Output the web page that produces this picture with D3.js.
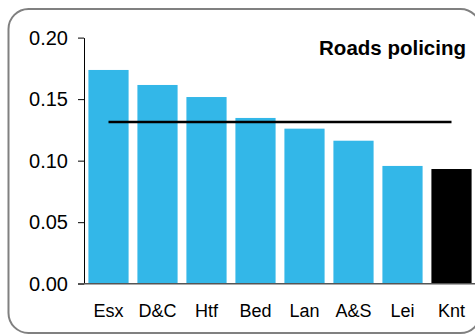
<!DOCTYPE html>
<html>
<head>
<meta charset="utf-8">
<script src="https://cdn.jsdelivr.net/npm/d3@7"></script>
<style>
  body { margin: 0; background: #fff; }
  svg { display: block; font-family: Arial, "Liberation Sans", sans-serif; }
</style>
</head>
<body>
<svg id="chart" width="475" height="335"></svg>
<script>
var forces = ["Esx", "D&C", "Htf", "Bed", "Lan", "A&S", "Lei", "Knt"];
var values = [0.1737, 0.1615, 0.1517, 0.1347, 0.126, 0.1162, 0.0957, 0.0932];
var average = 0.1314;
var yTicks = [0, 0.05, 0.10, 0.15, 0.20];
var highlight = "Knt";
var title = "Roads policing";

make_chart = function () {
    var svg = d3.select("#chart");
    var width = 475, height = 335;
    var margin = { top: 37.6, right: -1, bottom: 51.3, left: 84 };

    // rounded frame
    svg.append("rect")
        .attr("x", 8.5).attr("y", 9)
        .attr("width", 472).attr("height", 324)
        .attr("rx", 20).attr("ry", 20)
        .attr("fill", "none")
        .attr("stroke", "#808080")
        .attr("stroke-width", 2);

    var x = d3.scaleBand()
        .domain(forces)
        .range([margin.left, width - margin.right])
        .paddingInner(0.18)
        .paddingOuter(0.09);

    var y = d3.scaleLinear()
        .domain([0, 0.2])
        .range([height - margin.bottom, margin.top]);

    svg.append("g")
        .selectAll("rect")
        .data(forces)
        .join("rect")
        .attr("x", d => x(d))
        .attr("y", (d, i) => y(values[i]))
        .attr("width", x.bandwidth())
        .attr("height", (d, i) => y(0) - y(values[i]))
        .attr("fill", d => d == highlight ? "#000000" : "#33b7e8");

    // y axis
    var yAxis = svg.append("g")
        .attr("transform", `translate(${margin.left},0)`)
        .call(d3.axisLeft(y).tickValues(yTicks).tickFormat(d3.format(".2f")).tickSize(6).tickPadding(10).tickSizeOuter(0));
    yAxis.select(".domain").attr("stroke", "#000");
    yAxis.selectAll("text").attr("font-size", 20).attr("fill", "#000")
        .attr("font-family", "Arial, 'Liberation Sans', sans-serif");

    // x axis line
    svg.append("line")
        .attr("x1", margin.left - 6).attr("x2", width)
        .attr("y1", y(0)).attr("y2", y(0))
        .attr("stroke", "#555").attr("stroke-width", 1.5);

    // x labels
    svg.append("g")
        .selectAll("text")
        .data(forces)
        .join("text")
        .attr("x", d => x(d) + x.bandwidth() / 2)
        .attr("y", 317)
        .attr("text-anchor", "middle")
        .attr("font-size", 18)
        .text(d => d);

    // average line
    svg.append("line")
        .attr("x1", x(forces[0]) + x.bandwidth() / 2)
        .attr("x2", x(forces[forces.length - 1]) + x.bandwidth() / 2)
        .attr("y1", y(average)).attr("y2", y(average))
        .attr("stroke", "#000").attr("stroke-width", 2.5);

    svg.append("text")
        .attr("x", 466).attr("y", 55)
        .attr("text-anchor", "end")
        .attr("font-size", 20.5)
        .attr("font-weight", "bold")
        .text(title);
}

make_chart();
</script>
</body>
</html>
